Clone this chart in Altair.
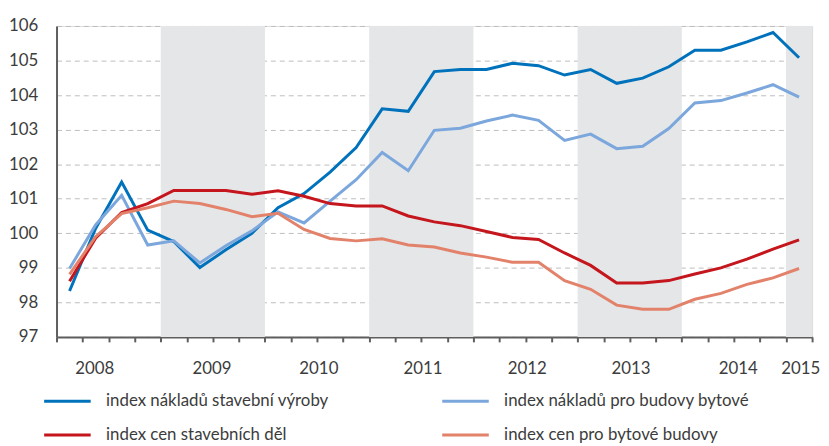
import altair as alt
import pandas as pd

# ---- data (quarterly, 2008 Q1 .. 2015 Q1) ----
quarters = list(range(29))
series_names = [
    "index nákladů stavební výroby",
    "index nákladů pro budovy bytové",
    "index cen stavebních děl",
    "index cen pro bytové budovy",
]
naklady_vyroby = [98.33, 100.14, 101.48, 100.09, 99.76, 99.01, 99.52, 100.00, 100.74,
                  101.15, 101.77, 102.48, 103.60, 103.53, 104.68, 104.74, 104.74, 104.92,
                  104.85, 104.58, 104.74, 104.34, 104.49, 104.82, 105.30, 105.30, 105.54,
                  105.81, 105.08]
naklady_byty = [98.98, 100.24, 101.10, 99.66, 99.78, 99.14, 99.64, 100.07, 100.62,
                100.30, 100.93, 101.55, 102.34, 101.81, 102.98, 103.04, 103.25, 103.42,
                103.27, 102.69, 102.87, 102.45, 102.52, 103.03, 103.77, 103.84, 104.06,
                104.30, 103.94]
ceny_del = [98.61, 99.86, 100.60, 100.86, 101.24, 101.24, 101.24, 101.13, 101.23,
            101.07, 100.86, 100.79, 100.79, 100.50, 100.33, 100.22, 100.05, 99.88,
            99.82, 99.43, 99.07, 98.56, 98.56, 98.63, 98.82, 99.00, 99.25, 99.54, 99.81]
ceny_byty = [98.81, 99.90, 100.57, 100.74, 100.93, 100.86, 100.69, 100.48, 100.58,
             100.11, 99.85, 99.78, 99.84, 99.66, 99.60, 99.43, 99.31, 99.16,
             99.16, 98.63, 98.38, 97.92, 97.80, 97.80, 98.09, 98.26, 98.52, 98.71, 98.98]
colors = ["#0072bc", "#7ba7dc", "#c4161c", "#e3826a"]

band_start = [3.5, 11.5, 19.5, 27.5]
band_end = [7.5, 15.5, 23.5, 28.5]

tick_bounds = [i - 0.5 for i in range(30)]
year_labels = ["2008", "2009", "2010", "2011", "2012", "2013", "2014", "2015"]
year_pos = [0.95, 5.45, 9.55, 13.55, 17.55, 21.53, 25.65, 28.05]

# ---- tables ----
rows = []
for name, vals in zip(series_names, [naklady_vyroby, naklady_byty, ceny_del, ceny_byty]):
    for q, v in zip(quarters, vals):
        rows.append({"q": q, "v": v, "series": name})
df = pd.DataFrame(rows)
bands = pd.DataFrame({"x": band_start, "x2": band_end, "y": [97] * 4, "y2": [106] * 4})

FONT = "Lato"
TXT = "#3c3c3c"
AX = "#5e5e5e"

xscale = alt.Scale(domain=[-0.5, 28.5], nice=False, zero=False)
yscale = alt.Scale(domain=[97, 106], nice=False, zero=False)

label_expr = " : ".join(
    f"datum.value == {p} ? '{t}'" for p, t in zip(year_pos, year_labels)
) + " : ''"

x_axis = alt.Axis(
    values=tick_bounds + year_pos,
    labelExpr=label_expr,
    grid=False,
    title=None,
    domainColor=AX,
    domainWidth=2,
    tickColor=AX,
    tickWidth=2,
    tickSize=5,
    tickOpacity={"condition": {"test": "abs(datum.value - floor(datum.value) - 0.5) > 0.01", "value": 0}, "value": 1},
    labelOverlap=False,
    labelFlush=False,
    labelBound=False,
    labelFont=FONT,
    labelFontSize=17,
    labelColor=TXT,
    labelPadding=19,
)
y_axis = alt.Axis(
    values=list(range(97, 107)),
    grid=True,
    gridColor="#bdbdbd",
    gridDash=[5, 4],
    gridWidth=1,
    ticks=False,
    title=None,
    domainColor=AX,
    domainWidth=2,
    labelOverlap=False,
    labelFlush=False,
    labelBound=False,
    labelFont=FONT,
    labelFontSize=17,
    labelColor=TXT,
    labelPadding=19,
)

band_layer = alt.Chart(bands).mark_rect(color="#e5e6e8").encode(
    x=alt.X("x:Q", scale=xscale, axis=x_axis),
    x2="x2:Q",
    y=alt.Y("y:Q", scale=yscale, axis=y_axis),
    y2="y2:Q",
)

line_layer = alt.Chart(df).mark_line(strokeWidth=3).encode(
    x=alt.X("q:Q", scale=xscale, axis=x_axis),
    y=alt.Y("v:Q", scale=yscale, axis=y_axis),
    color=alt.Color(
        "series:N",
        scale=alt.Scale(domain=series_names, range=colors),
        sort=series_names,
        legend=alt.Legend(
            orient="none",
            direction="horizontal",
            legendX=-14,
            legendY=354,
            columns=2,
            columnPadding=108,
            rowPadding=1,
            title=None,
            symbolType="stroke",
            symbolStrokeWidth=3,
            symbolSize=2209,
            labelFont=FONT,
            labelFontSize=17,
            labelColor=TXT,
            labelOffset=14,
            labelLimit=400,
        ),
    ),
)

chart = (
    alt.layer(band_layer, line_layer)
    .properties(
        width=763,
        height=314,
        autosize=alt.AutoSizeParams(type="none"),
        padding={"left": 49, "top": 16, "right": 9, "bottom": 108},
    )
    .configure_view(stroke=None)
    .configure(background="white")
)

chart.save("out.html", embed_options={"renderer": "svg", "actions": False})
